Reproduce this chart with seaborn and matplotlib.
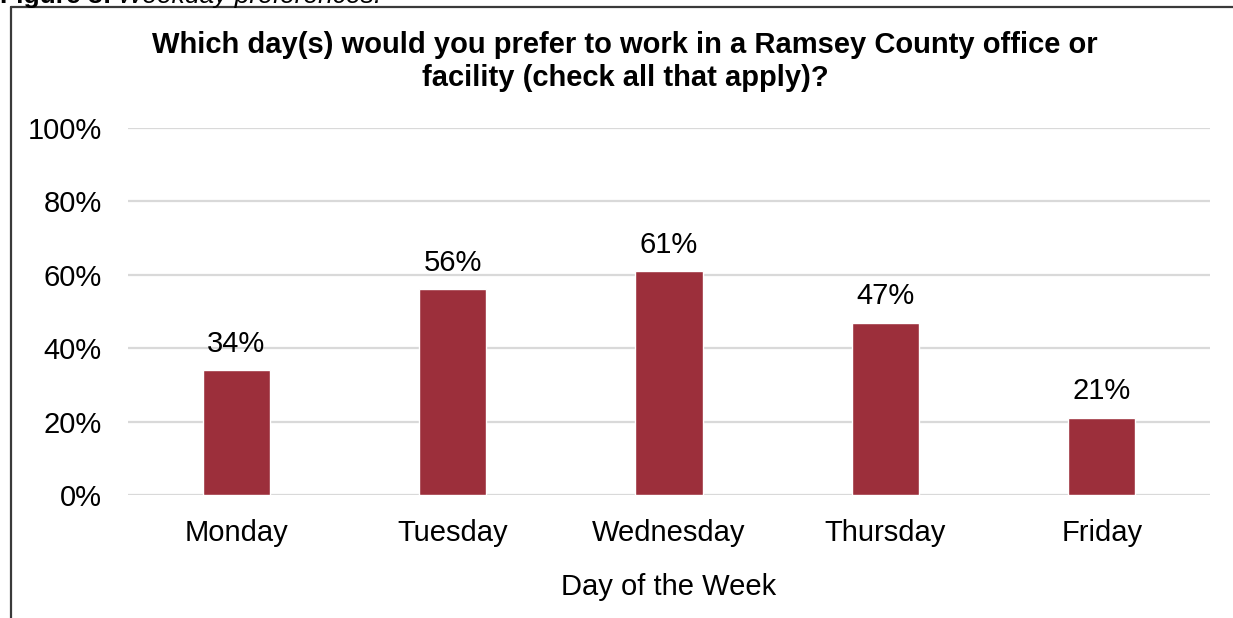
import matplotlib
matplotlib.use("Agg")
import matplotlib.pyplot as plt
from matplotlib.lines import Line2D
import seaborn as sns
import pandas as pd

days = ["Monday", "Tuesday", "Wednesday", "Thursday", "Friday"]
shares = [0.34, 0.56, 0.61, 0.47, 0.21]
y_ticks = [0.0, 0.2, 0.4, 0.6, 0.8, 1.0]
y_tick_labels = ["0%", "20%", "40%", "60%", "80%", "100%"]

title_lines = ["Which day(s) would you prefer to work in a Ramsey County office or",
               "facility (check all that apply)?"]
x_label = "Day of the Week"
caption_head = "Figure 3:"
caption_body = "Weekday preferences."

bar_color = "#9C2F3B"
grid_color = "#D9D9D9"
frame_color = "#3A3A3A"

sns.set_theme(style="white")
plt.rcParams["font.family"] = ["Liberation Sans", "DejaVu Sans"]

df = pd.DataFrame({"day": days, "share": shares})

W, H = 1233, 618
fig = plt.figure(figsize=(W / 100, H / 100), dpi=100)
ax = fig.add_axes([128 / W, 1 - 495 / H, (1210 - 128) / W, (495 - 128) / H])

sns.barplot(data=df, x="day", y="share", color=bar_color, width=0.31,
            saturation=1, ax=ax, zorder=3)

ax.set_ylim(0, 1.0)
ax.set_yticks(y_ticks)
ax.set_yticklabels(y_tick_labels, fontsize=21, color="#000000")
ax.tick_params(axis="x", labelsize=21, colors="#000000", length=0, pad=17)
ax.tick_params(axis="y", length=0, pad=19)
for t in y_ticks:
    ax.axhline(t, color=grid_color, linewidth=1.6, zorder=1)
for s in ax.spines.values():
    s.set_visible(False)
ax.set_xlim(-0.5, len(days) - 0.5)

ax.set_xlabel(x_label, fontsize=21, color="#000000", labelpad=19)
ax.set_ylabel("")

for i, v in enumerate(shares):
    ax.annotate(f"{round(v * 100)}%", (i, v), xytext=(0, 9), textcoords="offset points",
                ha="center", va="bottom", fontsize=21, color="#000000")

for k, line in enumerate(title_lines):
    fig.text(625 / W, 1 - (45 + 33 * k) / H, line, ha="center", va="center",
             fontsize=21, fontweight="bold", color="#000000")

# outer frame around the chart (left and top edges)
fig.add_artist(Line2D([10.5 / W, 10.5 / W], [0, 1 - 6.5 / H],
                      transform=fig.transFigure, color=frame_color, linewidth=1.6))
fig.add_artist(Line2D([10.5 / W, 1.0], [1 - 6.5 / H, 1 - 6.5 / H],
                      transform=fig.transFigure, color=frame_color, linewidth=1.6))

# figure caption sitting above the frame
head = fig.text(0.0, 1 - 2.5 / H, caption_head, ha="left", va="baseline",
                fontsize=19, fontweight="bold", color="#000000")
renderer = fig.canvas.get_renderer()
head_right = head.get_window_extent(renderer).x1
fig.text((head_right + 7) / W, 1 - 2.5 / H, caption_body, ha="left", va="baseline",
         fontsize=19, fontstyle="italic", color="#000000")

fig.savefig("out.png", dpi=100)
